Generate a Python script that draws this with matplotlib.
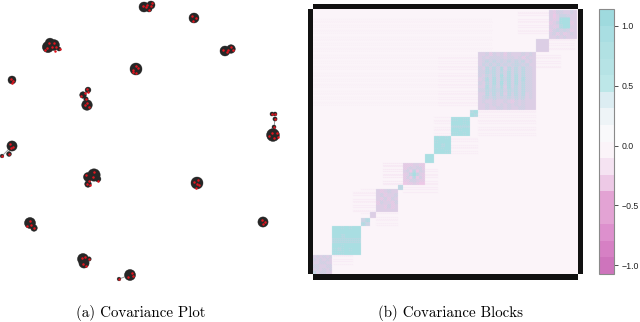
"""Two-panel figure: covariance graph on the left, covariance blocks on the right."""

import numpy as np
import matplotlib
matplotlib.use("Agg", force=True)
import matplotlib.pyplot as plt
from matplotlib.colors import BoundaryNorm, ListedColormap
from matplotlib.patches import Rectangle

WIDTH, HEIGHT = 640, 322

# panel (a): graph nodes, in pixels of the picture
NODE_X = [144, 151, 149, 194, 48, 54, 50, 59, 225, 231, 136, 12,
          87, 83, 88, 86, 272, 275, 275, 274, 273, 12, 9, 2,
          94, 88, 88, 98, 197, 263, 30, 34, 83, 84, 89, 130, 119]
NODE_Y = [7, 5, 9, 18, 47, 45, 43, 49, 51, 49, 69, 80,
          105, 95, 90, 99, 114, 114, 119, 127, 135, 146, 154, 156,
          175, 177, 184, 179, 183, 222, 223, 228, 259, 263, 259, 275, 279]
NODE_R = [5.0, 4.0, 3.0, 5.0, 5.6, 5.4, 4.8, 2.0, 5.0, 4.3, 6.0, 4.0,
          5.3, 3.3, 2.9, 2.2, 2.0, 2.0, 2.1, 2.0, 6.4, 5.1, 2.4, 1.8,
          6.2, 4.5, 3.3, 2.9, 6.0, 5.1, 5.5, 3.3, 5.5, 5.1, 2.2, 5.5, 1.8]

EDGE_X0 = [2, 119, 86, 274]
EDGE_Y0 = [156, 279, 99, 119]
EDGE_X1 = [12, 130, 87, 274]
EDGE_Y1 = [146, 275, 105, 135]

RED_X = [143, 146, 149, 152, 151, 147, 192, 196, 193, 49, 54, 47, 52, 56, 55, 60, 45,
         223, 227, 228, 231, 233, 136, 133, 138, 136, 133, 11, 13, 12,
         87, 85, 81, 88, 86, 85, 89, 87, 272, 275, 275, 274, 272, 277, 269, 274, 278,
         10, 13, 11, 9, 2, 94, 98, 89, 86, 93, 87, 90, 194, 198, 199, 196, 197,
         262, 265, 263, 30, 27, 31, 34, 82, 85, 89, 83, 86, 128, 132, 133, 119]
RED_Y = [6, 7, 10, 3, 6, 5, 16, 18, 21, 43, 43, 48, 47, 47, 51, 49, 50,
         50, 52, 50, 47, 50, 66, 70, 68, 73, 72, 79, 81, 83,
         89, 93, 96, 92, 99, 105, 107, 103, 114, 114, 119, 127, 133, 133, 136, 138, 137,
         144, 147, 148, 154, 156, 172, 181, 181, 175, 177, 184, 185, 182, 180, 185, 188, 184,
         220, 222, 224, 221, 226, 225, 228, 258, 257, 259, 264, 266, 277, 273, 276, 279]

# panel (b): matrix blocks, in matrix rows and columns
MATRIX_SIZE = 265
BLOCK_C0 = [0, 19, 48, 57, 63, 85, 90, 112, 121, 138, 157, 165, 223, 236]
BLOCK_C1 = [19, 48, 57, 63, 85, 90, 112, 121, 138, 157, 165, 223, 236, 264]
BLOCK_R0 = [246, 217, 209, 203, 180, 176, 154, 145, 127, 108, 101, 43, 30, 1]
BLOCK_R1 = [265, 246, 217, 209, 203, 181, 176, 154, 145, 127, 108, 101, 43, 30]

# share of cyan in each block, coarse cells from top left, 0 pink to 9 cyan
BLOCK_SHARE = [
    ["232323", "323232", "223322", "332233", "232323", "523322"],
    ["9989899", "9999999", "9979999", "7777777", "9989999", "8789899", "8889999"],
    ["47", "74"],
    ["22", "22"],
    ["212322", "231223", "213132", "132213", "221312", "222222"],
    ["66", "66"],
    ["1112211", "1232331", "2306032", "1259521", "1306031", "1133211", "0112100"],
    ["99", "99"],
    ["98989", "89999", "99799", "89899", "99988"],
    ["88988", "99989", "77777", "99899", "88989"],
    ["79", "97"],
    ["2231323132223232",
     "2323333233231322",
     "2353534353535232",
     "2435353434543422",
     "3263637263636332",
     "3364636373636332",
     "3253638373736332",
     "2373737473737332",
     "3263738373736332",
     "2273637273636332",
     "3364646364636332",
     "2263636263636232",
     "2353534353535232",
     "2322322321323222",
     "2232323232323222",
     "2232233232233222"],
    ["22", "22"],
    ["21332232", "20244322", "21289922", "12489912", "21279922", "13434312", "23131232", "22323222"],
]

# pale streaks around the blocks
HALO_C0 = [125, 150, 165, 223, 205, 236, 40, 63, 70, 90, 20, 48, 121, 138, 0]
HALO_C1 = [165, 165, 223, 248, 236, 262, 63, 85, 90, 125, 40, 70, 138, 165, 180]
HALO_R0 = [48, 60, 101, 45, 2, 30, 182, 203, 154, 160, 246, 180, 108, 127, 10]
HALO_R1 = [100, 95, 128, 60, 28, 42, 203, 218, 176, 184, 256, 205, 127, 145, 100]
HALO_SHARE = [0.16, 0.16, 0.16, 0.2, 0.2, 0.16, 0.2, 0.16, 0.3, 0.25, 0.2, 0.14, 0.16, 0.14, 0.05]
STREAK = [1, 0, 0, 1, 1, 0, 1, 0, 0, 0, 1, 0, 1, 1, 0, 0, 1, 0]

DITHER = [[0, 8, 2, 10], [12, 4, 14, 6], [3, 11, 1, 9], [15, 7, 13, 5]]

CBAR_COLORS = ["#CE74BC", "#D680C4", "#DD90CD", "#E3A3D4", "#E3A3D4", "#EDC9E6", "#F5E3F2", "#FBF4F9",
               "#F9F9FB", "#EEF4F7", "#DCEDF2", "#BDE7E8", "#B6E3E5", "#B1E1E3", "#A9DEE2", "#9FDADE"]
CBAR_LOW, CBAR_HIGH = -1.075, 1.142
CBAR_TICKS = [-1.0, -0.5, 0.0, 0.5, 1.0]
CBAR_LABELS = ["\u22121.0", "\u22120.5", "0.0", "0.5", "1.0"]

BACKGROUND = -0.03
HALO_VALUE = -0.17
PINK_VALUE = -0.3
CYAN_VALUE = 0.93
SUB = 2  # matrix cells per pixel


def axes_at(fig, left, top, right, bottom):
    return fig.add_axes([left / WIDTH, 1 - bottom / HEIGHT,
                         (right - left) / WIDTH, (bottom - top) / HEIGHT])


def build_matrix():
    n = MATRIX_SIZE * SUB
    tile = np.array(DITHER)
    rows, cols = np.indices((n, n))
    thresh = tile[rows % 4, cols % 4] / 16
    streak = np.array(STREAK)[(rows // SUB) % len(STREAK)]
    mat = np.full((n, n), BACKGROUND)
    for c0, c1, r0, r1, s in zip(HALO_C0, HALO_C1, HALO_R0, HALO_R1, HALO_SHARE):
        win = (slice(r0 * SUB, r1 * SUB), slice(c0 * SUB, c1 * SUB))
        mat[win][(thresh[win] < s * 2) & (streak[win] == 1)] = HALO_VALUE
    for c0, c1, r0, r1, share in zip(BLOCK_C0, BLOCK_C1, BLOCK_R0, BLOCK_R1, BLOCK_SHARE):
        cells = np.array([[int(d) for d in row] for row in share]) / 9
        for r in range(r0 * SUB, r1 * SUB):
            for c in range(c0 * SUB, c1 * SUB):
                i = (r - r0 * SUB) * cells.shape[0] // ((r1 - r0) * SUB)
                j = (c - c0 * SUB) * cells.shape[1] // ((c1 - c0) * SUB)
                mat[r, c] = CYAN_VALUE if thresh[r, c] < cells[i, j] else PINK_VALUE
    return mat


def draw_graph(ax):
    for x0, y0, x1, y1 in zip(EDGE_X0, EDGE_Y0, EDGE_X1, EDGE_Y1):
        ax.plot([x0, x1], [y0, y1], color="#999999", linewidth=0.7, zorder=1)
    sizes = [(2 * r * 0.72) ** 2 for r in NODE_R]
    ax.scatter(NODE_X, NODE_Y, s=sizes, color="#262626", edgecolors="#8c8c8c",
               linewidths=0.5, zorder=2)
    ax.scatter(NODE_X, NODE_Y, s=sizes, color="#262626", linewidths=0, zorder=3)
    ax.scatter(RED_X, RED_Y, s=3.2, color="#E2141E", linewidths=0, zorder=4)


def draw_frame(ax):
    # the frame bars do not meet at the corners
    bars = [(313, 4, 265, 5.4), (307.5, 9, 5.5, 265), (578, 9, 5, 265), (313, 274, 265, 6)]
    for x, y, w, h in bars:
        ax.add_patch(Rectangle((x, y), w, h, facecolor="#111111", edgecolor="none"))


fig = plt.figure(figsize=(WIDTH / 100, HEIGHT / 100), dpi=100)

canvas = fig.add_axes([0, 0, 1, 1])
canvas.set_xlim(0, WIDTH)
canvas.set_ylim(HEIGHT, 0)
canvas.axis("off")
draw_graph(canvas)
draw_frame(canvas)
canvas.text(141, 313, "(a) Covariance Plot", family="cmr10", fontsize=10.8, ha="center", va="center")
canvas.text(450, 313, "(b) Covariance Blocks", family="cmr10", fontsize=10.8, ha="center", va="center")

bounds = np.linspace(CBAR_LOW, CBAR_HIGH, len(CBAR_COLORS) + 1)
cmap = ListedColormap(CBAR_COLORS)
norm = BoundaryNorm(bounds, cmap.N)

heat = axes_at(fig, 313, 9, 578, 274)
image = heat.imshow(build_matrix(), cmap=cmap, norm=norm, aspect="auto",
                    interpolation="hanning", interpolation_stage="rgba")
heat.axis("off")

cax = axes_at(fig, 599, 9, 614, 274)
cbar = fig.colorbar(image, cax=cax, spacing="proportional", drawedges=False)
cbar.set_ticks(CBAR_TICKS, labels=CBAR_LABELS)
cbar.minorticks_off()
cax.tick_params(length=3, width=0.6, color="#333333", labelsize=6.3, pad=2.5, labelcolor="#222222")
for label in cax.get_yticklabels():
    label.set_family("Liberation Sans")
cbar.outline.set_edgecolor("#8a8a8a")
cbar.outline.set_linewidth(0.8)

fig.savefig("out.png", dpi=100)
